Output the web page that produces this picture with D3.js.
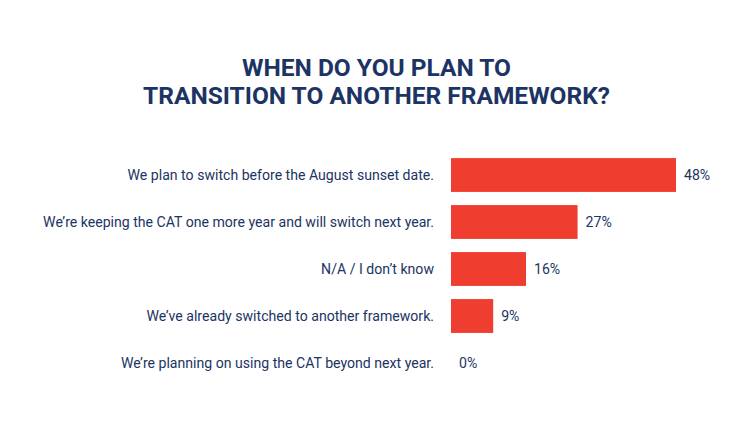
<!DOCTYPE html>
<html>
	<head>
		<title>Transition plans</title>
		<style>
			body,
			html {
				margin: 0;
				padding: 0;
				background: #fff;
			}
			text {
				font-family: Roboto, 'Noto Sans', sans-serif;
			}
		</style>
	</head>
	<body>
		<svg id="svg" width="753" height="428"></svg>

		<script src="https://d3js.org/d3.v7.min.js"></script>
		<script>
			const titleLines = ['WHEN DO YOU PLAN TO', 'TRANSITION TO ANOTHER FRAMEWORK?'];
			const answers = [
				'We plan to switch before the August sunset date.',
				'We\u2019re keeping the CAT one more year and will switch next year.',
				'N/A / I don\u2019t know',
				'We\u2019ve already switched to another framework.',
				'We\u2019re planning on using the CAT beyond next year.'
			];
			const percents = [48, 27, 16, 9, 0];

			const width = 753;
			const navy = '#1c3464';
			const red = '#ef3e2f';

			const svg = d3.select('#svg');

			// title, two centred lines
			svg
				.append('g')
				.selectAll('text')
				.data(titleLines)
				.enter()
				.append('text')
				.attr('x', width / 2)
				.attr('y', (d, i) => 76 + i * 28)
				.attr('text-anchor', 'middle')
				.attr('font-size', 24.5)
				.attr('font-weight', 700)
				.attr('fill', navy)
				.text((d) => d);

			const xscale = d3.scaleLinear().domain([0, 48]).range([451, 676]);
			const yscale = d3
				.scaleBand()
				.domain(answers)
				.range([151.5, 386.5])
				.paddingInner(0.28)
				.paddingOuter(0.14);

			// bars
			svg
				.append('g')
				.selectAll('rect')
				.data(answers)
				.enter()
				.append('rect')
				.attr('x', xscale(0))
				.attr('y', (d) => yscale(d))
				.attr('width', (d, i) => xscale(percents[i]) - xscale(0))
				.attr('height', yscale.bandwidth())
				.attr('fill', red);

			// category labels on the left
			svg
				.append('g')
				.selectAll('text')
				.data(answers)
				.enter()
				.append('text')
				.attr('x', 434)
				.attr('y', (d) => yscale(d) + yscale.bandwidth() / 2)
				.attr('dy', '0.35em')
				.attr('text-anchor', 'end')
				.attr('font-size', 14.1)
				.attr('fill', navy)
				.text((d) => d);

			// value labels
			svg
				.append('g')
				.selectAll('text')
				.data(answers)
				.enter()
				.append('text')
				.attr('x', (d, i) => xscale(percents[i]) + 8)
				.attr('y', (d) => yscale(d) + yscale.bandwidth() / 2)
				.attr('dy', '0.35em')
				.attr('font-size', 14.1)
				.attr('fill', navy)
				.text((d, i) => percents[i] + '%');
		</script>
	</body>
</html>
